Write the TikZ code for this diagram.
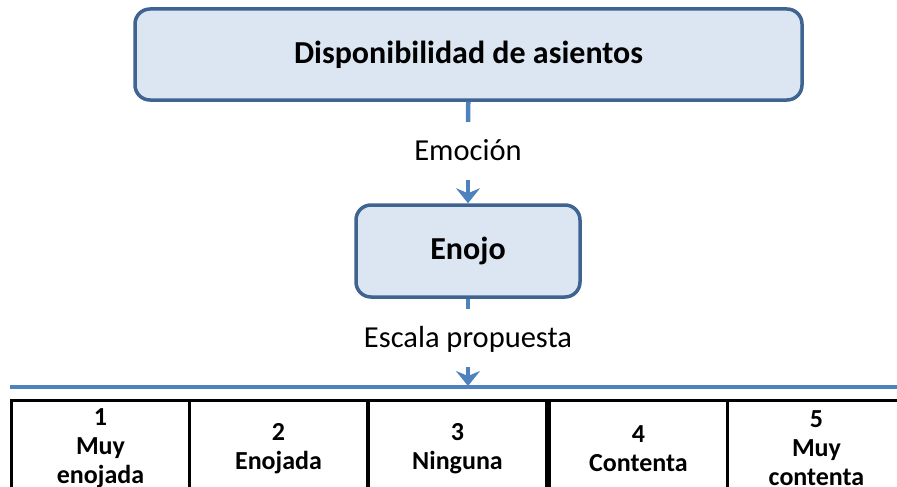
\documentclass[tikz,border=0pt]{standalone}
\usepackage{fontspec}
\setmainfont{Carlito}
\usetikzlibrary{arrows.meta,positioning}

\definecolor{boxfill}{HTML}{DCE6F2}
\definecolor{boxline}{HTML}{3F6491}
\definecolor{flowblue}{HTML}{4F81BD}

\tikzset{
    stepbox/.style={draw=boxline, line width=3.5pt, fill=boxfill, rounded corners=15pt,
        font=\fontsize{32}{36}\selectfont\bfseries},
    flowlabel/.style={font=\fontsize{30.5}{36}\selectfont, text height=18pt, text depth=0pt,
        inner ysep=20pt, anchor=base},
    conn/.style={draw=flowblue, line width=4.5pt},
    cell/.style={draw=black, line width=3pt, minimum width=178pt, minimum height=96pt,
        anchor=north west, align=center, text width=170pt,
        font=\fontsize{26}{29}\selectfont\bfseries}
}

\begin{document}
\begin{tikzpicture}[x=1pt,y=-1pt]
    \useasboundingbox (0,0) rectangle (897,487);
    \clip (0,0) rectangle (897,487);
    \node[stepbox, minimum width=667pt, minimum height=91pt] (top) at (468.5,54.5) {Disponibilidad de asientos};
    \node[flowlabel] (emo) at (468,160) {Emoción};
    \node[stepbox, minimum width=224pt, minimum height=92pt] (enojo) at (468,251) {Enojo};
    \node[flowlabel] (esc) at (468,347) {Escala propuesta};
    \coordinate (scale) at (468,386);
    \draw[conn] (top) -- (emo);
    \draw[conn, -{Stealth[length=15pt, width=24pt, inset=5pt]}] (emo) -- (enojo);
    \draw[conn] (enojo) -- (esc);
    \draw[conn, -{Stealth[length=15pt, width=24pt, inset=5pt]}] (esc) -- (scale);
    \draw[conn] (10,387) -- (905,387);
    % escala
    \node[cell] (c1) at (10,399) {1\\Muy\\enojada};
    \node[cell] (c2) at (188,399) {2\\Enojada};
    \node[cell] (c3) at (367,399) {3\\Ninguna};
    \node[cell] (c4) at (548,399) {4\\Contenta};
    \node[cell] (c5) at (726,399) {5\\Muy\\contenta};
\end{tikzpicture}
\end{document}
